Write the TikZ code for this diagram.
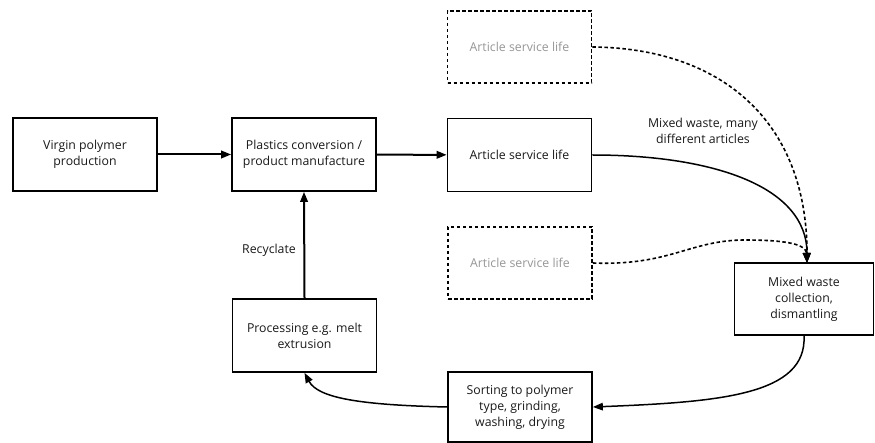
\documentclass[tikz,border=0pt]{standalone}
\usepackage{fontspec}
\setmainfont{Open Sans}
\usetikzlibrary{arrows.meta}
\definecolor{greytext}{RGB}{150,150,150}
\definecolor{ink}{RGB}{25,25,25}
\begin{document}
\begin{tikzpicture}[x=1pt,y=-1pt,
  every node/.style={font=\fontsize{12.3}{16}\selectfont, align=center, inner sep=0pt, text=ink},
  solidbox/.style={draw, line width=1.7pt, minimum width=144pt, minimum height=73pt},
  dashbox/.style={draw, line width=1.7pt, dash pattern=on 3.5pt off 2.5pt, minimum width=144pt, minimum height=72pt, text=greytext},
  flow/.style={line width=2pt, -{Triangle[length=10pt,width=7.5pt]}},
  curveflow/.style={line width=1.5pt, -{Triangle[length=10pt,width=7.5pt]}},
  dashflow/.style={line width=1.6pt, dash pattern=on 3.5pt off 2.5pt, -{Triangle[length=10pt,width=7.5pt]}},
  lbl/.style={font=\fontsize{12.3}{16}\selectfont}
]
\useasboundingbox (0,0) rectangle (875,443);
\node[solidbox] (virgin) at (85,154.5) {Virgin polymer\\production};
\node[solidbox] (conv) at (304,154.5) {Plastics conversion /\\product manufacture};
\node[solidbox] (life) at (519.5,155) {Article service life};
\node[dashbox] (lifetop) at (519.5,47) {Article service life};
\node[dashbox] (lifemid) at (520,263) {Article service life};
\node[solidbox, minimum width=139pt, minimum height=72pt] (mixed) at (804,299) {Mixed waste\\collection,\\dismantling};
\node[solidbox, minimum height=70pt] (sort) at (520,407) {Sorting to polymer\\type, grinding,\\washing, drying};
\node[solidbox] (proc) at (304.5,335.5) {Processing e.g. melt\\extrusion};
\coordinate (mtop) at (807,263);
\draw[flow] (virgin) -- (conv);
\draw[flow] (conv) -- (life);
\draw[flow] (proc.north) -- (conv.south);
\node[lbl] (recy) at (269,250) {Recyclate};
\draw[curveflow] (life.east) .. controls (710,155) and (807,185) .. (mtop);
\draw[dashflow] (lifetop.east) .. controls (720,48) and (807,120) .. (mtop);
\draw[dashflow] (lifemid.east) .. controls (670,266) and (690,240) .. (745,240) .. controls (790,240) and (806,245) .. (mtop);
\node[lbl] (mwlabel) at (703,131) {Mixed waste, many\\different articles};
\draw[curveflow] (mixed.south) .. controls (807,395) and (720,402) .. (sort.east);
\draw[curveflow] (sort.west) .. controls (360,405) and (318,398) .. (proc.south);
\end{tikzpicture}
\end{document}
